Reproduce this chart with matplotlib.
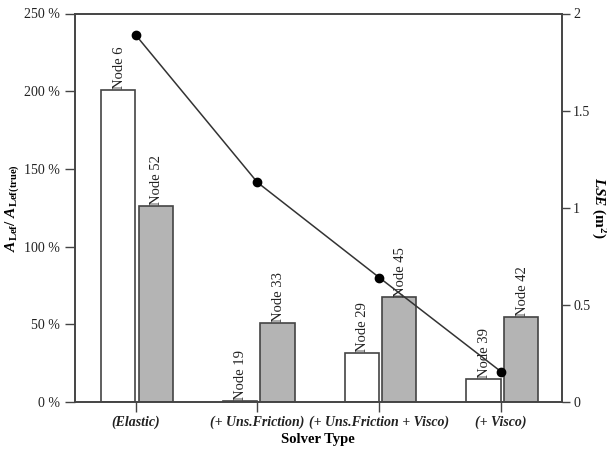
import matplotlib.pyplot as plt
import numpy as np

plt.rcParams['font.family'] = ['Liberation Serif', 'DejaVu Serif']
plt.rcParams['mathtext.fontset'] = 'custom'
plt.rcParams['mathtext.rm'] = 'Liberation Serif'
plt.rcParams['mathtext.it'] = 'Liberation Serif:italic'
plt.rcParams['mathtext.bf'] = 'Liberation Serif:bold'
plt.rcParams['mathtext.bfit'] = 'Liberation Serif:italic:bold'

solvers = ["(Elastic)", "(+ Uns.Friction)", "(+ Uns.Friction + Visco)", "(+ Visco)"]
white_vals = [201, 0.5, 31.5, 14.8]
white_nodes = ["Node 6", "Node 19", "Node 29", "Node 39"]
gray_vals = [126, 50.6, 67.3, 54.7]
gray_nodes = ["Node 52", "Node 33", "Node 45", "Node 42"]
lse = [1.89, 1.13, 0.64, 0.155]

edge = "#444444"
x = np.arange(len(solvers))
w = 0.28

fig, ax = plt.subplots(figsize=(6.07, 4.5), dpi=100)
fig.subplots_adjust(left=0.123, right=0.926, top=0.970, bottom=0.107)

b1 = ax.bar(x - 0.145, white_vals, w, color="white", edgecolor=edge, linewidth=1.2, zorder=2)
b2 = ax.bar(x + 0.165, gray_vals, w, color="#b4b4b4", edgecolor=edge, linewidth=1.2, zorder=2)

for bars, names in [(b1, white_nodes), (b2, gray_nodes)]:
    for r, name in zip(bars, names):
        ax.text(r.get_x() + r.get_width() / 2 + 0.01, r.get_height() + 0.5, name,
                rotation=90, ha="center", va="bottom", fontsize=10.5, color="#222222", zorder=4)

ax.set_xlim(-0.5, 3.5)
ax.set_ylim(0, 250)
ax.set_yticks([0, 50, 100, 150, 200, 250])
ax.set_yticklabels(["0 %", "50 %", "100 %", "150 %", "200 %", "250 %"], fontsize=10)
ax.set_xticks(x)
ax.set_xticklabels(solvers, fontsize=10, fontweight="bold", fontstyle="italic")
ax.set_xlabel("Solver Type", fontsize=10.5, fontweight="bold", labelpad=3)
ax.set_ylabel(r"$\mathbfit{A}_{\mathbf{Lef}}\mathbf{/}\ \mathbfit{A}_{\mathbf{Lef(true)}}$",
              fontsize=11, labelpad=2)
ax.tick_params(axis="both", direction="out", length=7, width=1, colors=edge, labelcolor="#222222")
ax.tick_params(axis="x", pad=3)

for s in ax.spines.values():
    s.set_color(edge)
    s.set_linewidth(1.2)

ax2 = ax.twinx()
ax2.plot(x, lse, color="#333333", linewidth=1.1, marker="o", markersize=6,
         markerfacecolor="black", markeredgecolor="black", zorder=5)
ax2.set_ylim(0, 2)
ax2.set_yticks([0, 0.5, 1, 1.5, 2])
ax2.set_yticklabels(["0", "0.5", "1", "1.5", "2"], fontsize=10)
ax2.set_ylabel(r"$\mathbfit{LSE}\ \mathbf{(m^2)}$", fontsize=11, rotation=270, labelpad=12)
ax2.tick_params(axis="y", direction="out", length=6, width=1, pad=2, colors=edge, labelcolor="#222222")
for s in ax2.spines.values():
    s.set_color(edge)
    s.set_linewidth(1.2)

fig.savefig("out.png", dpi=100)
